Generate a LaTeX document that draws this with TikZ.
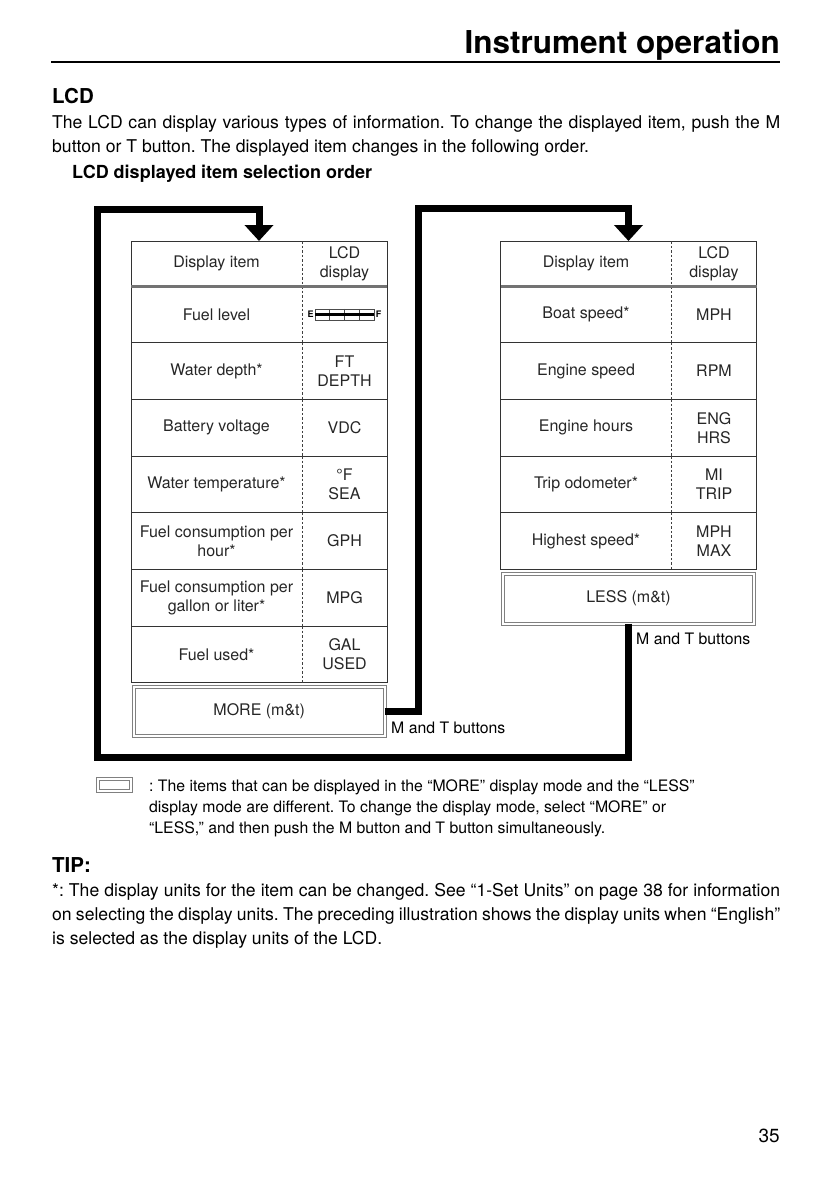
\documentclass[tikz,border=0pt]{standalone}
\usepackage{fontspec}
\setmainfont{TeX Gyre Heros}
\frenchspacing
\usetikzlibrary{arrows.meta,positioning}
\newcommand{\pgtitlefont}{\fontsize{31.5}{36}\selectfont\bfseries}
\newcommand{\pgheadfont}{\fontsize{20.5}{24}\selectfont\bfseries}
\newcommand{\pgsubfont}{\fontsize{18}{22}\selectfont\bfseries}
\newcommand{\pgbodyfont}{\fontsize{17.6}{23.8}\selectfont}
\newcommand{\pgnotefont}{\fontsize{15.8}{21}\selectfont}
\newcommand{\pgcellfont}{\fontsize{16}{19}\selectfont}
\tikzset{
  headrule/.style={line width=1.5pt},
  loopln/.style={-{Triangle[length=16pt,width=28pt]}, line width=7pt, line join=miter},
  rowbox/.style={draw=black!80, line width=1pt, minimum width=256pt, minimum height=56.7pt, inner sep=0pt, outer sep=0pt},
  modebox/.style={draw=black!50, double=white, double distance=2pt, line width=1pt, inner sep=0pt, outer sep=0pt, font=\pgcellfont, text=black!85},
  celltxt/.style={align=center, inner sep=0pt, font=\pgcellfont, text=black!85},
  divln/.style={black!75, dash pattern=on 2.5pt off 2pt, line width=1pt},
  hdrbar/.style={black!55, line width=3pt},
  headtxt/.style={inner sep=0pt, anchor=base west},
  bodytxt/.style={text width=728pt, align=justify, inner sep=0pt, font=\pgbodyfont},
  notetxt/.style={align=left, inner sep=0pt, font=\pgnotefont},
  btntxt/.style={inner sep=0pt, font=\pgnotefont},
}

\begin{document}
\begin{tikzpicture}[x=1pt, y=-1pt]
  \useasboundingbox (0,0) rectangle (832,1180);
  % page head
  \node[inner sep=0pt, anchor=base east, font=\pgtitlefont] (title) at (780,54) {Instrument operation};
  \draw[headrule] (51,62) -- (780,62);
  % intro
  \node[headtxt, font=\pgheadfont] (lcdhead) at (52,104) {LCD};
  \node[bodytxt, anchor=north west] (intro) at (52,115.5)
    {The LCD can display various types of information. To change the displayed item, push the M\break
     button or T button. The displayed item changes in the following order.};
  \node[headtxt, font=\pgsubfont] (ordhead) at (72,178) {LCD displayed item selection order};

  % left: MORE table
  \node[rowbox, minimum height=45pt] (lhead) at (259,263.5) {};
  \node[celltxt] (lhitem) at ([xshift=85.5pt]lhead.west) {Display item};
  \node[celltxt] (lhunit) at ([xshift=-42.5pt]lhead.east) {LCD\\display};
  \draw[divln] ([xshift=171pt]lhead.north west) -- ([xshift=171pt]lhead.south west);
  \foreach \i/\itm/\unt in {1/Fuel level/{}, 2/Water depth*/FT\\DEPTH, 3/Battery voltage/VDC,
      4/Water temperature*/°F\\SEA, 5/Fuel consumption per\\hour*/GPH,
      6/Fuel consumption per\\gallon or liter*/MPG, 7/Fuel used*/GAL\\USED}{
    \node[rowbox] (lrow\i) at (259,{286+56.7*(\i-0.5)}) {};
    \node[celltxt] (litem\i) at ([xshift=85.5pt]lrow\i.west) {\itm};
    \node[celltxt] (lunit\i) at ([xshift=-42.5pt]lrow\i.east) {\unt};
    \draw[divln] ([xshift=171pt]lrow\i.north west) -- ([xshift=171pt]lrow\i.south west);
  }
  \draw[hdrbar] (lhead.south west) -- (lhead.south east);
  % fuel gauge
  \begin{scope}[shift={(lunit1.center)}]
    \draw[black!70, line width=0.7pt] (-29.5,-5.5) rectangle (29.5,5.5);
    \foreach \gx in {-14.75,0,14.75}
      \draw[black!70, line width=0.7pt] (\gx,-5.5) -- (\gx,5.5);
    \draw[line width=3pt] (-29.5,0) -- (29.5,0);
    \node[font=\fontsize{9}{10}\selectfont\bfseries, inner sep=0pt] (gaugeE) at (-34,0) {E};
    \node[font=\fontsize{9}{10}\selectfont\bfseries, inner sep=0pt] (gaugeF) at (34,0) {F};
  \end{scope}
  \node[modebox, minimum width=251pt, minimum height=49pt] (lmore) at (259.2,711.4) {MORE (m\&t)};

  % right: LESS table
  \node[rowbox, minimum height=45pt] (rhead) at (628.5,263.5) {};
  \node[celltxt] (rhitem) at ([xshift=85.5pt]rhead.west) {Display item};
  \node[celltxt] (rhunit) at ([xshift=-42.5pt]rhead.east) {LCD\\display};
  \draw[divln] ([xshift=171pt]rhead.north west) -- ([xshift=171pt]rhead.south west);
  \foreach \i/\itm/\unt in {1/Boat speed*/MPH, 2/Engine speed/RPM, 3/Engine hours/ENG\\HRS,
      4/Trip odometer*/MI\\TRIP, 5/Highest speed*/MPH\\MAX}{
    \node[rowbox] (rrow\i) at (628.5,{286+56.7*(\i-0.5)}) {};
    \node[celltxt] (ritem\i) at ([xshift=85.5pt]rrow\i.west) {\itm};
    \node[celltxt] (runit\i) at ([xshift=-42.5pt]rrow\i.east) {\unt};
    \draw[divln] ([xshift=171pt]rrow\i.north west) -- ([xshift=171pt]rrow\i.south west);
  }
  \draw[hdrbar] (rhead.south west) -- (rhead.south east);
  \node[modebox, minimum width=251pt, minimum height=50pt] (rless) at (628.5,598.7) {LESS (m\&t)};

  % loops between the tables
  \coordinate (lcorner) at (97,209);
  \coordinate (lbottom) at (97,757);
  \coordinate (rcorner) at (418,208);
  \draw[loopln] (rless.south) |- (lbottom) -- (lcorner) -| (lhead.north);
  \draw[loopln] (lmore.east) -| (rcorner) -| (rhead.north);
  \node[btntxt, anchor=base west] (lbtn) at (391,733) {M and T buttons};
  \node[btntxt, anchor=base west] (rbtn) at (636,644) {M and T buttons};

  % legend
  \node[modebox, minimum width=33pt, minimum height=12pt] (legbox) at (114.5,785) {};
  \node[notetxt, anchor=north west] (legtxt) at (149,779.5)
    {: The items that can be displayed in the “MORE” display mode and the “LESS”\\
     display mode are different. To change the display mode, select “MORE” or\\
     “LESS,” and then push the M button and T button simultaneously.};

  % tip
  \node[headtxt, font=\pgheadfont] (tiphead) at (52,872) {TIP:};
  \node[bodytxt, anchor=north west] (tiptxt) at (52,883.5)
    {*: The display units for the item can be changed. See “1-Set Units” on page 38 for information\break
     on selecting the display units. The preceding illustration shows the display units when “English”\break
     is selected as the display units of the LCD.};
  \node[anchor=base east, font=\fontsize{19}{22}\selectfont, inner sep=0pt] (pagenum) at (780,1142) {35};
\end{tikzpicture}
\end{document}
